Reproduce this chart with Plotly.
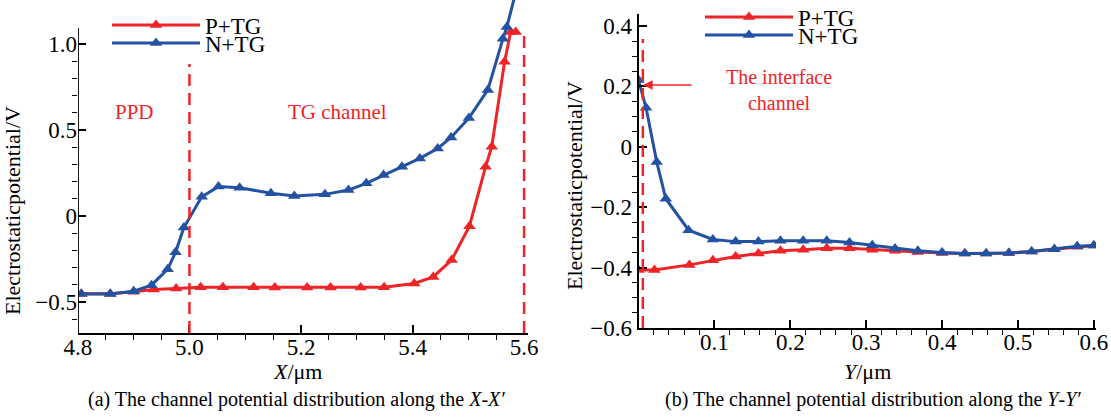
import plotly.graph_objects as go

# ---------------- data ----------------
# Panel (a): along X-X'
xa_red = [4.806, 4.858, 4.900, 4.936, 4.976, 5.020, 5.060, 5.115, 5.153, 5.211, 5.253, 5.307,
          5.349, 5.403, 5.437, 5.470, 5.502, 5.531, 5.542, 5.565, 5.576, 5.585]
ya_red = [-0.452, -0.452, -0.440, -0.427, -0.421, -0.414, -0.414, -0.414, -0.416, -0.416, -0.416, -0.416,
          -0.414, -0.392, -0.354, -0.256, -0.059, 0.287, 0.403, 0.897, 1.070, 1.070]
xa_blue = [4.806, 4.858, 4.900, 4.932, 4.961, 4.975, 4.990, 5.022, 5.052, 5.090, 5.146, 5.188,
           5.243, 5.285, 5.317, 5.348, 5.381, 5.413, 5.445, 5.469, 5.501, 5.535, 5.562, 5.569, 5.585]
ya_blue = [-0.453, -0.453, -0.437, -0.402, -0.309, -0.211, -0.067, 0.112, 0.171, 0.165, 0.132, 0.116,
           0.126, 0.151, 0.190, 0.238, 0.287, 0.335, 0.393, 0.457, 0.570, 0.733, 1.030, 1.099, 1.300]

# Panel (b): along Y-Y'
yb_red_x = [0.000, 0.021, 0.067, 0.098, 0.128, 0.158, 0.187, 0.217, 0.248, 0.278, 0.308, 0.338,
            0.368, 0.400, 0.430, 0.458, 0.488, 0.518, 0.548, 0.578, 0.600]
yb_red_y = [-0.408, -0.408, -0.391, -0.376, -0.363, -0.353, -0.344, -0.341, -0.336, -0.336, -0.341, -0.344,
            -0.348, -0.352, -0.353, -0.353, -0.352, -0.347, -0.339, -0.331, -0.327]
yb_blue_x = [0.000, 0.010, 0.024, 0.036, 0.066, 0.098, 0.128, 0.158, 0.187, 0.217, 0.248, 0.278,
             0.308, 0.338, 0.368, 0.400, 0.430, 0.458, 0.488, 0.518, 0.548, 0.578, 0.600]
yb_blue_y = [0.221, 0.129, -0.050, -0.172, -0.276, -0.307, -0.314, -0.314, -0.311, -0.311, -0.311, -0.317,
             -0.326, -0.337, -0.344, -0.350, -0.353, -0.353, -0.352, -0.347, -0.339, -0.329, -0.327]

series_names = ["P+TG", "N+TG"]

xa_ticks = [4.8, 5.0, 5.2, 5.4, 5.6]
xa_ticktext = ["4.8", "5.0", "5.2", "5.4", "5.6"]
ya_ticks = [-0.5, 0.0, 0.5, 1.0]
ya_ticktext = ["\u22120.5", "0", "0.5", "1.0"]
xb_ticks = [0.1, 0.2, 0.3, 0.4, 0.5, 0.6]
xb_ticktext = ["0.1", "0.2", "0.3", "0.4", "0.5", "0.6"]
yb_ticks = [-0.6, -0.4, -0.2, 0.0, 0.2, 0.4]
yb_ticktext = ["\u22120.6", "\u22120.4", "\u22120.2", "0", "0.2", "0.4"]

xa_minor = [4.85, 4.9, 4.95, 5.05, 5.1, 5.15, 5.25, 5.3, 5.35, 5.45, 5.5, 5.55]
ya_minor = [-0.6, -0.4, -0.3, -0.2, -0.1, 0.1, 0.2, 0.3, 0.4, 0.6, 0.7, 0.8, 0.9]
xb_minor = [0.02, 0.04, 0.06, 0.08, 0.12, 0.14, 0.16, 0.18, 0.22, 0.24, 0.26, 0.28, 0.32, 0.34,
            0.36, 0.38, 0.42, 0.44, 0.46, 0.48, 0.52, 0.54, 0.56, 0.58]
yb_minor = [-0.55, -0.5, -0.45, -0.35, -0.3, -0.25, -0.15, -0.1, -0.05, 0.05, 0.1, 0.15,
            0.25, 0.3, 0.35]

# ---------------- style ----------------
W, H = 1111, 417
RED = "#EE2427"
BLUE = "#2352A3"
FONT = "Liberation Serif, Times New Roman, Times, serif"
TICKFONT = dict(family=FONT, size=23, color="black")


def px(x):
    return x / W


def py(y):
    return 1 - y / H


fig = go.Figure()

mk = dict(symbol="triangle-up", size=11)
fig.add_trace(go.Scatter(x=xa_red, y=ya_red, mode="lines+markers", name=series_names[0],
                         line=dict(color=RED, width=3), marker=dict(color=RED, **mk),
                         xaxis="x", yaxis="y", legend="legend"))
fig.add_trace(go.Scatter(x=xa_blue, y=ya_blue, mode="lines+markers", name=series_names[1],
                         line=dict(color=BLUE, width=3), marker=dict(color=BLUE, **mk),
                         xaxis="x", yaxis="y", legend="legend2"))
fig.add_trace(go.Scatter(x=yb_red_x, y=yb_red_y, mode="lines+markers", name=series_names[0],
                         line=dict(color=RED, width=3), marker=dict(color=RED, **mk),
                         xaxis="x2", yaxis="y2", legend="legend3"))
fig.add_trace(go.Scatter(x=yb_blue_x, y=yb_blue_y, mode="lines+markers", name=series_names[1],
                         line=dict(color=BLUE, width=3), marker=dict(color=BLUE, **mk),
                         xaxis="x2", yaxis="y2", legend="legend4"))

axis_common = dict(ticks="inside", ticklen=8, tickwidth=1.5, tickcolor="black",
                   tickfont=TICKFONT, showgrid=False, zeroline=False, linecolor="black",
                   linewidth=2, automargin=False)
minor_common = dict(ticklen=5, tickwidth=1.2, tickcolor="black", showgrid=False)

fig.update_layout(
    width=W, height=H,
    margin=dict(l=0, r=0, t=0, b=0, pad=0, autoexpand=False),
    paper_bgcolor="white", plot_bgcolor="white",
    xaxis=dict(domain=[px(77.9), px(528)], range=[4.8, 5.607], anchor="y",
               tickvals=xa_ticks, ticktext=xa_ticktext, showline=True, ticklabelstandoff=-8,
               minor=dict(tickvals=xa_minor, **minor_common), **axis_common),
    yaxis=dict(domain=[py(333), 1], range=[-0.68, 1.256], anchor="x",
               tickvals=ya_ticks, ticktext=ya_ticktext, showline=False,
               minor=dict(tickvals=ya_minor, **minor_common), **axis_common),
    xaxis2=dict(domain=[px(638.5), px(1096)], range=[0, 0.6028], anchor="y2",
                tickvals=xb_ticks, ticktext=xb_ticktext, showline=True, ticklabelstandoff=-8,
                minor=dict(tickvals=xb_minor, **minor_common), **axis_common),
    yaxis2=dict(domain=[py(328), py(13.9)], range=[-0.6, 0.44], anchor="x2",
                tickvals=yb_ticks, ticktext=yb_ticktext, showline=True,
                minor=dict(tickvals=yb_minor, **minor_common), **axis_common),
    showlegend=True,
)

leg_common = dict(bgcolor="rgba(0,0,0,0)", borderwidth=0, itemwidth=88,
                  font=dict(family=FONT, size=23, color="black"),
                  xanchor="left", yanchor="middle", itemclick=False, itemdoubleclick=False)
fig.update_layout(
    legend=dict(x=px(107), y=py(25), **leg_common),
    legend2=dict(x=px(107), y=py(43), **leg_common),
    legend3=dict(x=px(700), y=py(17), **leg_common),
    legend4=dict(x=px(700), y=py(35), **leg_common),
)

# left y axis line (shorter than the plot area, curves overshoot above it)
fig.add_shape(type="line", xref="x", yref="y", x0=4.8, x1=4.8, y0=-0.68, y1=1.093,
              line=dict(color="black", width=2))
# dashed boundaries
fig.add_shape(type="line", xref="x", yref="y", x0=5.0, x1=5.0, y0=-0.68, y1=0.884,
              line=dict(color=RED, width=2.5, dash="12px,7px"))
fig.add_shape(type="line", xref="x", yref="y", x0=5.6, x1=5.6, y0=-0.68, y1=1.05,
              line=dict(color=RED, width=2.5, dash="12px,7px"))
fig.add_shape(type="line", xref="x2", yref="y2", x0=0.0057, x1=0.0057, y0=-0.6, y1=0.357,
              line=dict(color=RED, width=2.5, dash="12px,7px"))

annots = []
def txt(x, y, s, size=21, color="black", angle=0):
    annots.append(dict(x=px(x), y=py(y), xref="paper", yref="paper", text=s, showarrow=False,
                       textangle=angle, xanchor="center", yanchor="middle",
                       font=dict(family=FONT, size=size, color=color)))

txt(134, 112, "PPD", color=RED)
txt(337, 112, "TG channel", color=RED)
txt(779, 90, "The interface<br>channel", size=20, color=RED)
txt(13, 211, "Electrostaticpotential/V", size=22, angle=-90)
txt(574, 186, "Electrostaticpotential/V", size=22, angle=-90)
txt(297, 371, "<i>X</i>/\u03bcm", size=22)
txt(867, 371, "<i>Y</i>/\u03bcm", size=22)
txt(296, 399, "(a) The channel potential distribution along the <i>X</i>-<i>X\u2032</i>", size=20)
txt(873, 399, "(b) The channel potential distribution along the <i>Y</i>-<i>Y\u2032</i>", size=20)

annots.append(dict(x=px(643), y=py(85), ax=50, ay=0, xref="paper", yref="paper",
                   axref="pixel", ayref="pixel", text="", showarrow=True,
                   arrowhead=2, arrowsize=1.2, arrowwidth=1.6, arrowcolor=RED))
fig.update_layout(annotations=annots)

fig.write_html("out.html")
